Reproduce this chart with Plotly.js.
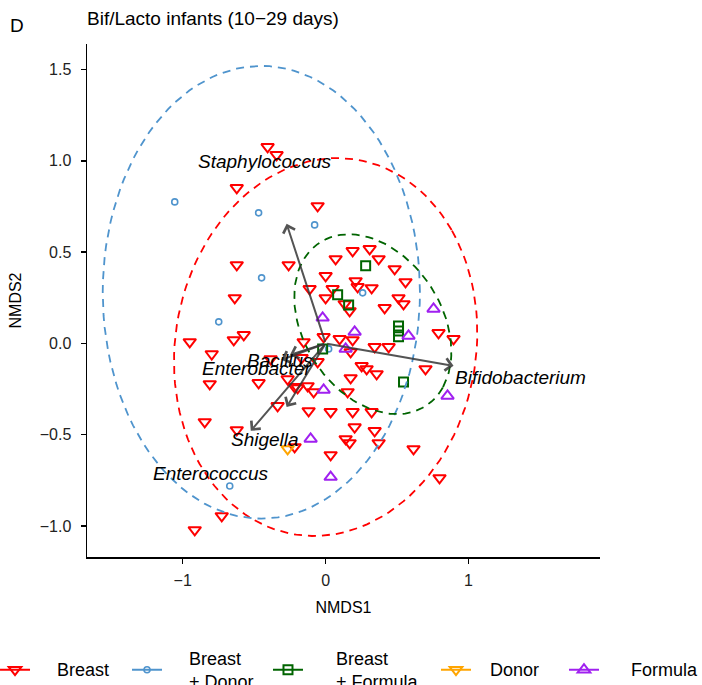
<!DOCTYPE html>
<html><head><meta charset="utf-8">
<script src="https://cdn.plot.ly/plotly-3.0.1.min.js"></script>
<style>html,body{margin:0;padding:0;background:#fff}#chart{width:702px;height:685px}</style>
</head><body><div id="chart"></div>
<script>
// ---- data (NMDS scores) ----
const groups = ['Breast', 'Breast + Donor', 'Breast + Formula', 'Donor', 'Formula'];
const legendLabels = ['Breast', 'Breast<br>+ Donor', 'Breast<br>+ Formula', 'Donor', 'Formula'];

const breastX = [-0.406,-0.343,-0.622,-0.056,-0.622,-0.259,-0.636,0.070,0.189,0.308,0.371,0.483,0.559,0.000,0.210,0.224,0.322,-0.112,0.000,0.049,0.133,0.168,0.413,0.510,0.545,-0.154,-0.014,0.098,0.189,0.175,0.343,0.441,0.790,0.895,0.699,-0.056,0.252,0.287,0.357,0.175,-0.951,-0.643,-0.573,-0.797,-0.385,-0.811,-0.469,-0.266,-0.196,-0.126,-0.846,-0.622,-0.336,-0.119,-0.217,0.035,-0.727,-0.916,0.035,0.189,0.322,0.203,0.343,0.140,0.168,0.371,0.615,0.797,-0.217,-0.084,0.154,-0.168];
const breastY = [1.077,1.033,0.852,0.753,0.430,0.430,0.249,0.463,0.507,0.518,0.463,0.408,0.337,0.370,0.342,0.310,0.304,0.299,0.249,0.299,0.216,0.178,0.195,0.249,0.216,0.008,0.036,0.025,0.019,-0.047,-0.019,-0.019,0.058,0.025,-0.140,-0.101,-0.123,-0.140,-0.167,-0.189,0.008,0.019,0.047,-0.058,-0.085,-0.222,-0.216,-0.195,-0.244,-0.233,-0.430,-0.474,-0.342,-0.370,-0.567,-0.611,-0.945,-1.022,-0.375,-0.375,-0.375,-0.458,-0.479,-0.523,-0.545,-0.545,-0.578,-0.737,-0.238,-0.266,-0.266,-0.079];

const bdonorX = [-1.056,-0.469,-0.077,-0.448,-0.748,-0.671,0.259,0.021];
const bdonorY = [0.775,0.715,0.649,0.359,0.118,-0.781,0.277,-0.030];

const bformulaX = [0.280,0.084,0.161,0.510,0.510,0.510,0.545,-0.021];
const bformulaY = [0.425,0.266,0.211,0.096,0.068,0.036,-0.211,-0.030];

const donorX = [-0.266];
const donorY = [-0.578];

const formulaX = [-0.021,0.203,0.140,0.755,0.580,-0.014,0.853,-0.105,0.035];
const formulaY = [0.140,0.063,-0.030,0.189,0.041,-0.255,-0.288,-0.523,-0.732];

// 95% ellipses (centre, semi-axes, rotation in degrees) for the three larger groups
const ellipseGroups = ['Breast', 'Breast + Donor', 'Breast + Formula'];
const ellipseCX = [0.0, -0.45, 0.33];
const ellipseCY = [-0.02, 0.28, 0.105];
const ellipseA = [1.09, 1.11, 0.60];
const ellipseB = [1.005, 1.24, 0.43];
const ellipseAngle = [36, 0, -35];

// envfit vectors
const vecNames = ['Staphylococcus','Bifidobacterium','Bacillus','Enterobacter','Shigella','Enterococcus'];
const vecX = [-0.273, 0.895, -0.250, -0.310, -0.273, -0.524];
const vecY = [0.655, -0.123, -0.063, -0.090, -0.348, -0.479];
const vecLabelX = [-0.427, 1.365, -0.320, -0.483, -0.427, -0.800];
const vecLabelY = [0.995, -0.189, -0.095, -0.140, -0.529, -0.715];

const xTicks = [-1, 0, 1];
const yTicks = [-1.0, -0.5, 0.0, 0.5, 1.0, 1.5];

// ---- styling ----
const FONT = 'Liberation Sans, Arial, Helvetica, sans-serif';
const colors = ['#FF0000', '#4F94CD', '#006400', '#FFA500', '#A020F0'];
const symbols = ['triangle-down-open', 'circle-open', 'square-open', 'triangle-down-open', 'triangle-up-open'];
const sizes = [11, 6, 9, 11, 11];
const lws = [2, 1.6, 2, 2, 2];
const seriesX = [breastX, bdonorX, bformulaX, donorX, formulaX];
const seriesY = [breastY, bdonorY, bformulaY, donorY, formulaY];

const traces = [];
for (let g = 0; g < groups.length; g++) {
  traces.push({
    type: 'scatter', mode: 'markers', x: seriesX[g], y: seriesY[g], name: groups[g],
    showlegend: false, cliponaxis: false,
    marker: {symbol: symbols[g], size: sizes[g], color: colors[g], line: {color: colors[g], width: lws[g]}}
  });
}
for (let e = 0; e < ellipseGroups.length; e++) {
  const gi = groups.indexOf(ellipseGroups[e]);
  const th = ellipseAngle[e] * Math.PI / 180;
  const ex = [], ey = [];
  for (let k = 0; k <= 120; k++) {
    const t = 2 * Math.PI * k / 120;
    const u = ellipseA[e] * Math.cos(t), v = ellipseB[e] * Math.sin(t);
    ex.push(ellipseCX[e] + u * Math.cos(th) - v * Math.sin(th));
    ey.push(ellipseCY[e] + u * Math.sin(th) + v * Math.cos(th));
  }
  traces.push({type: 'scatter', mode: 'lines', x: ex, y: ey, showlegend: false, hoverinfo: 'skip',
    line: {color: colors[gi], width: 1.8, dash: '8px,6px'}});
}
// legend keys, each in its own legend box so they can sit on one row; labels are annotations
const legendIds = ['legend', 'legend2', 'legend3', 'legend4', 'legend5'];
for (let g = 0; g < groups.length; g++) {
  traces.push({type: 'scatter', mode: 'lines+markers', x: [null], y: [null], name: '',
    legend: legendIds[g], showlegend: true,
    line: {color: colors[g], width: 2},
    marker: {symbol: symbols[g], size: sizes[g], color: colors[g], line: {color: colors[g], width: lws[g]}}});
}

const annotations = [];
for (let i = 0; i < vecNames.length; i++) {
  annotations.push({x: vecX[i], y: vecY[i], ax: 0, ay: 0, xref: 'x', yref: 'y', axref: 'x', ayref: 'y',
    text: '', showarrow: true, arrowhead: 4, arrowsize: 1.2, arrowwidth: 2, standoff: 0,
    arrowcolor: 'rgba(55,55,55,0.85)'});
}
for (let i = 0; i < vecNames.length; i++) {
  annotations.push({x: vecLabelX[i], y: vecLabelY[i], xref: 'x', yref: 'y', showarrow: false,
    text: '<i>' + vecNames[i] + '</i>', font: {family: FONT, size: 19, color: '#000'}});
}
annotations.push({xref: 'paper', yref: 'paper', x: (17 - 87) / 513, y: 1 + (44 - 25) / 513,
  xanchor: 'center', yanchor: 'middle', showarrow: false, text: 'D', font: {family: FONT, size: 19, color: '#000'}});

const legendKeyX = [-0.1793, 0.0780, 0.3528, 0.6803, 0.9298];
const legendTextX = [-0.0624, 0.1949, 0.4815, 0.7817, 1.0565];
const legendY = -(670 - 557) / 513;
for (let g = 0; g < groups.length; g++) {
  annotations.push({xref: 'paper', yref: 'paper', x: legendTextX[g], y: legendY, xanchor: 'left', yanchor: 'middle',
    align: 'left', showarrow: false, text: legendLabels[g], font: {family: FONT, size: 18, color: '#000'}});
}

const layout = {
  width: 702, height: 685,
  margin: {l: 87, r: 102, t: 44, b: 128, autoexpand: false},
  paper_bgcolor: '#fff', plot_bgcolor: '#fff',
  font: {family: FONT, size: 16, color: '#000'},
  showlegend: true,
  title: {text: 'Bif/Lacto infants (10\u221229 days)', xref: 'container', yref: 'container',
    x: 87 / 702, xanchor: 'left', y: 1 - 18 / 685, yanchor: 'middle', font: {family: FONT, size: 19, color: '#000'}},
  xaxis: {range: [-1.67, 1.92], tickvals: xTicks, ticks: 'outside', ticklen: 5, tickwidth: 1.5, tickcolor: '#000',
    showline: true, linecolor: '#000', linewidth: 1.5, showgrid: false, zeroline: false, automargin: false,
    ticklabelstandoff: 3,
    tickfont: {family: FONT, size: 16, color: '#222'},
    title: {text: 'NMDS1', standoff: 14, font: {family: FONT, size: 16, color: '#000'}}},
  yaxis: {range: [-1.17, 1.64], tickvals: yTicks, tickformat: '.1f', ticks: 'outside', ticklen: 5, tickwidth: 1.5, tickcolor: '#000',
    showline: true, linecolor: '#000', linewidth: 1.5, showgrid: false, zeroline: false, automargin: false,
    ticklabelstandoff: 6,
    tickfont: {family: FONT, size: 16, color: '#222'},
    title: {text: 'NMDS2', standoff: 14, font: {family: FONT, size: 16, color: '#000'}}},
  annotations: annotations
};
for (let g = 0; g < legendIds.length; g++) {
  layout[legendIds[g]] = {orientation: 'h', x: legendKeyX[g], xanchor: 'left', y: legendY, yanchor: 'middle',
    bgcolor: 'rgba(0,0,0,0)', itemwidth: 30, font: {family: FONT, size: 18, color: '#000'}};
}

Plotly.newPlot('chart', traces, layout, {displayModeBar: false, staticPlot: true});
</script>
</body></html>
